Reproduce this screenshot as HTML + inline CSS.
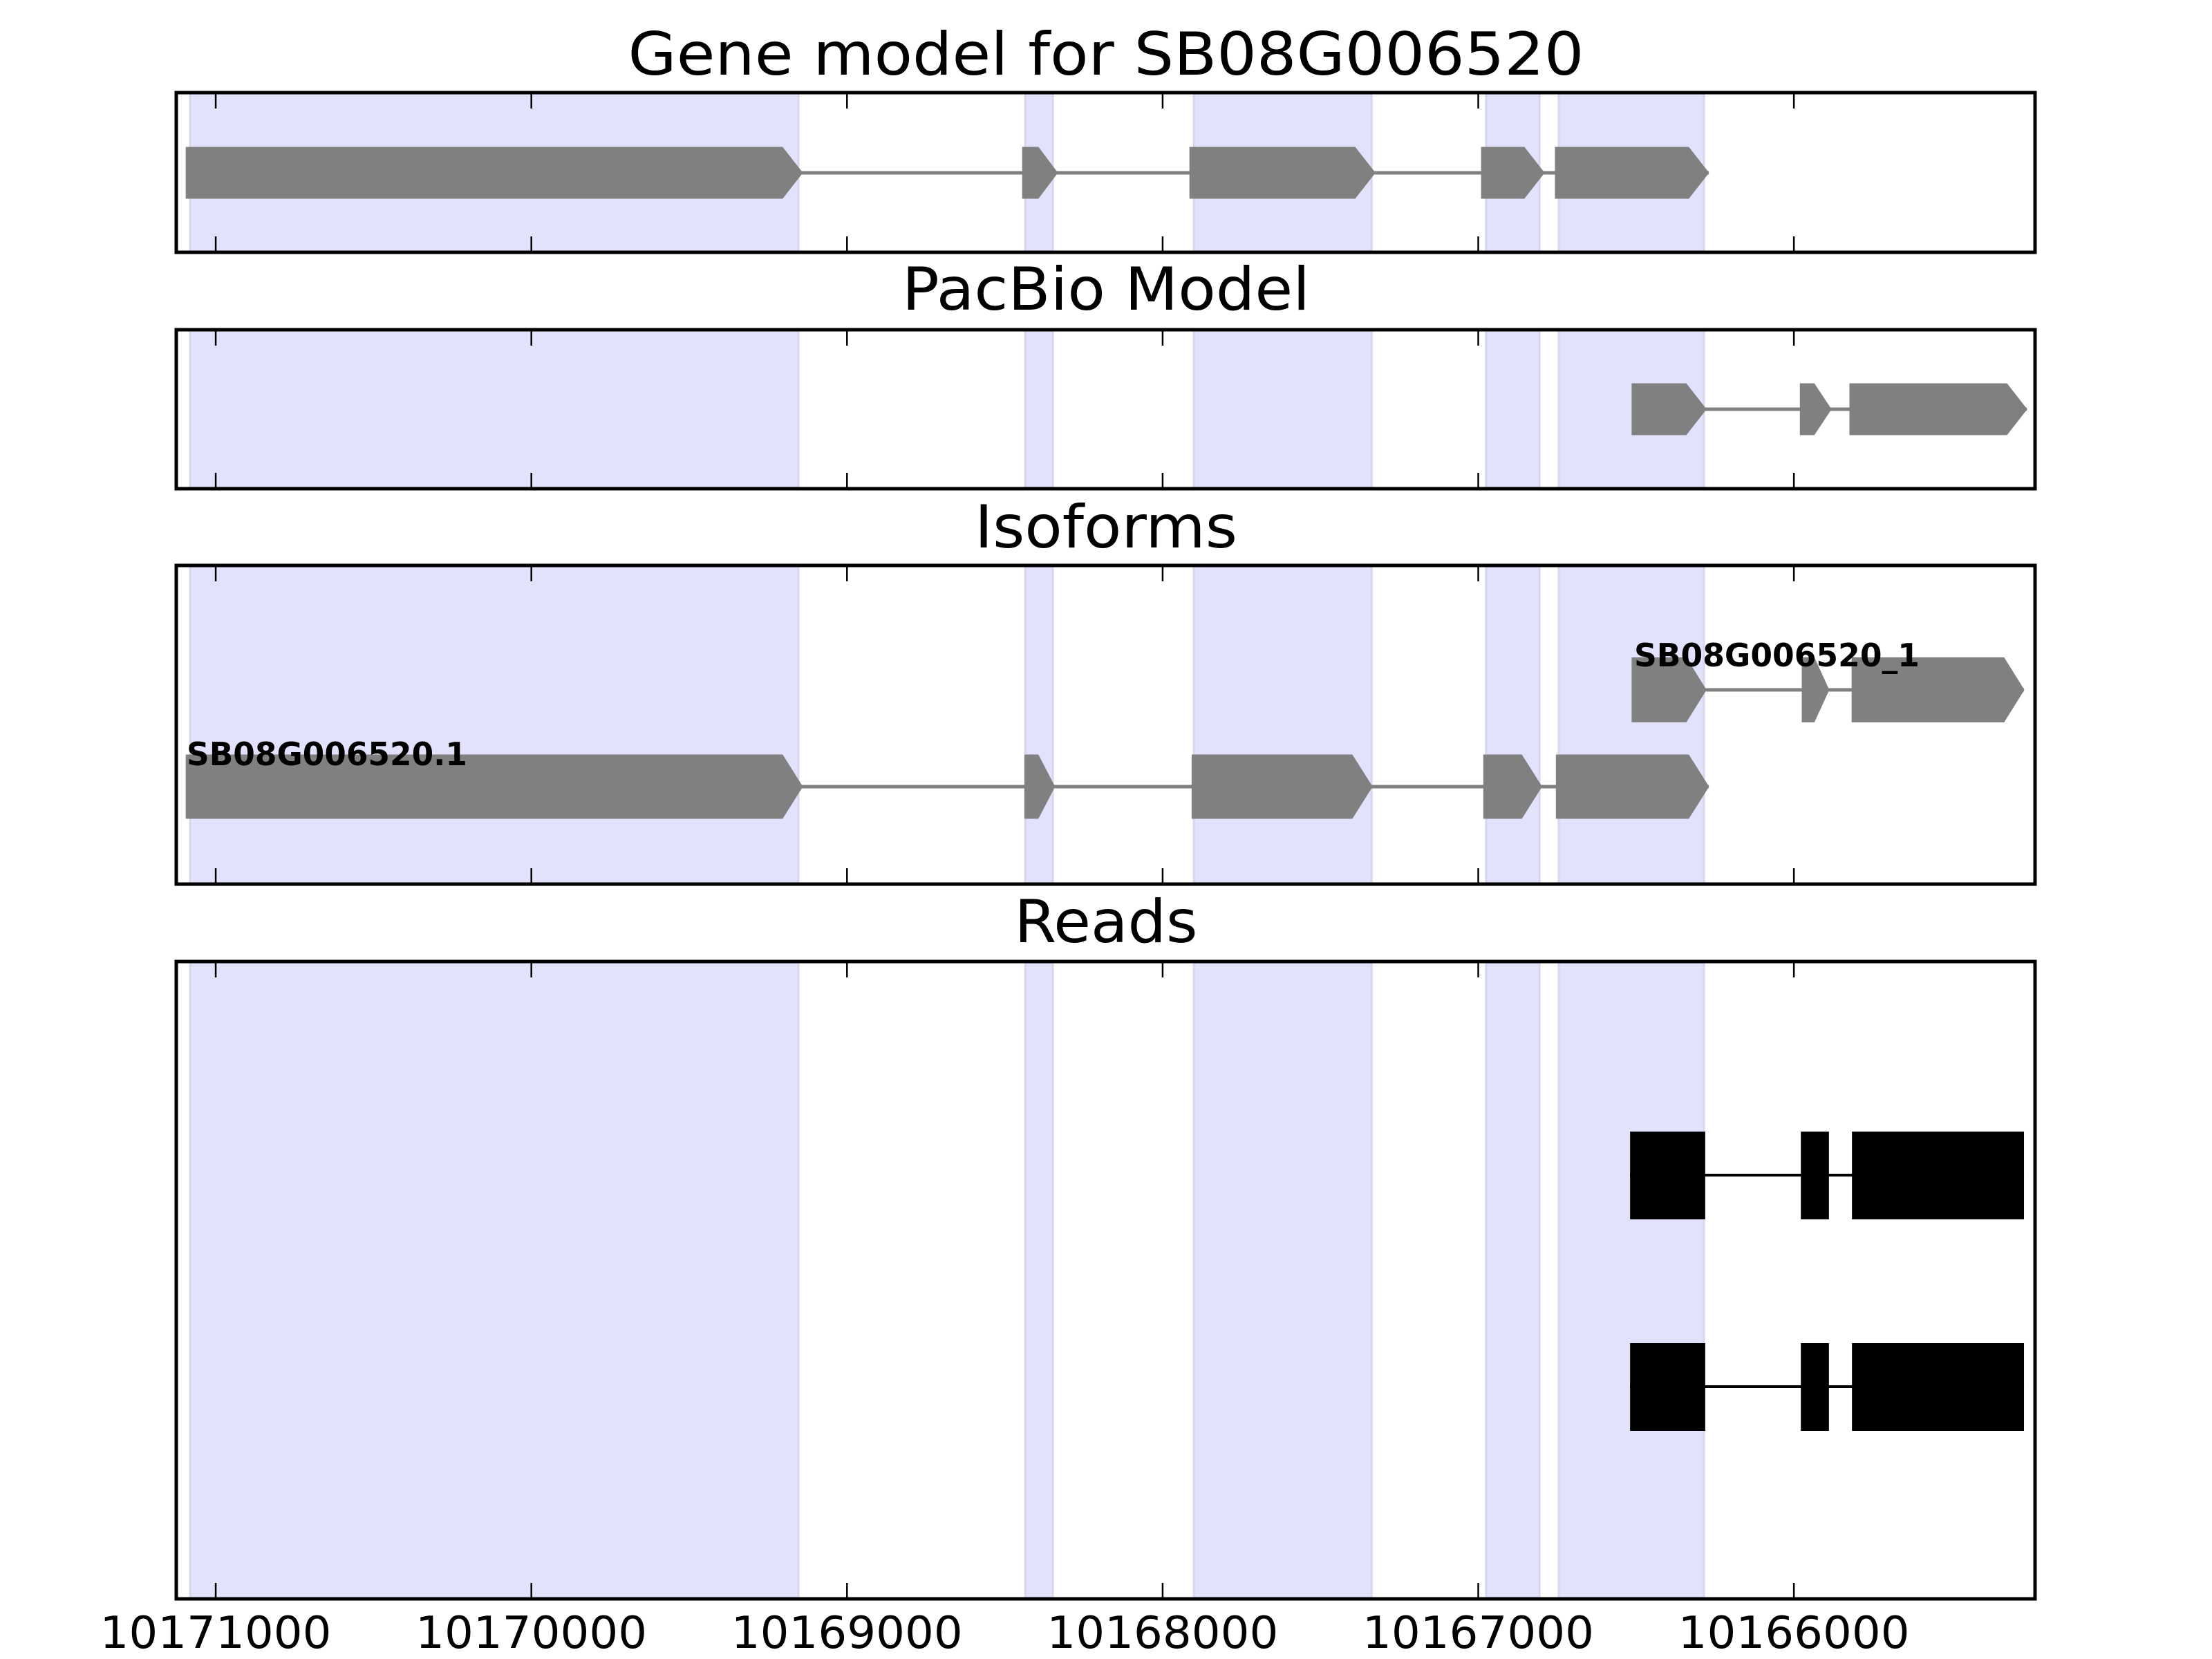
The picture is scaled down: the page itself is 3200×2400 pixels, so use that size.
<!DOCTYPE html>
<html><head><meta charset="utf-8"><style>
html,body{margin:0;padding:0;background:#fff}
svg{display:block}
text{font-family:"DejaVu Sans","Liberation Sans",sans-serif}
</style></head><body>
<svg id="chart" width="3200" height="2400" viewBox="0 0 3200 2400" xmlns="http://www.w3.org/2000/svg"></svg>
<script>
// ---- data (genomic coordinates) ----
const tickValues = [10171000, 10170000, 10169000, 10168000, 10167000, 10166000];
const tickLabels = ["10171000", "10170000", "10169000", "10168000", "10167000", "10166000"];
const shadedStarts = [10171081, 10168435, 10167901, 10166975, 10166745];
const shadedEnds   = [10169154, 10168348, 10167338, 10166806, 10166285];
const geneStarts = [10171094, 10168444, 10167914, 10166990, 10166756];
const geneEnds   = [10169141, 10168333, 10167327, 10166791, 10166270];
const pacbioStarts = [10166513, 10165980, 10165823];
const pacbioEnds   = [10166278, 10165882, 10165262];
const iso1Starts = [10171094, 10168437, 10167907, 10166983, 10166753];
const iso1Ends   = [10169141, 10168342, 10167336, 10166799, 10166270];
const iso2Starts = [10166513, 10165974, 10165816];
const iso2Ends   = [10166278, 10165889, 10165271];
const readStarts = [10166519, 10165978, 10165816];
const readEnds   = [10166281, 10165889, 10165271];
const readRows = [1, 2];
const titles = ["Gene model for SB08G006520", "PacBio Model", "Isoforms", "Reads"];

const NS = "http://www.w3.org/2000/svg";
const svg = document.getElementById("chart");
const X0 = 255, X1 = 2944;
const xMin = 10171125, xMax = 10165236; // inverted axis
function xs(g){ return X0 + (xMin - g) / (xMin - xMax) * (X1 - X0); }
function mk(tag, attrs, parent){
  const e = document.createElementNS(NS, tag);
  for (const k in attrs) e.setAttribute(k, attrs[k]);
  (parent || svg).appendChild(e);
  return e;
}
const panels = [
  {top:134, bottom:365, tb:108, tw:1383},
  {top:477, bottom:707, tb:448, tw:590},
  {top:818, bottom:1279, tb:792, tw:380},
  {top:1391, bottom:2313, tb:1363, tw:265}
];
const panelNames = ["gene-model-panel","pacbio-panel","isoforms-panel","reads-panel"];

panels.forEach((p, i) => {
  const g = mk("g", {});
  
  
  shadedStarts.forEach((s, j) => {
    const a = xs(s), b = xs(shadedEnds[j]);
    const r = mk("rect", {x:a, y:p.top, width:b-a, height:p.bottom-p.top, fill:"#e2e2fc", stroke:"#d6d6ee", "stroke-width":3}, g);
    
    
  });
  const t = mk("text", {x:1600, y:p.tb, "font-size":86, "text-anchor":"middle", textLength:p.tw, lengthAdjust:"spacingAndGlyphs", fill:"#000"}, g);
  t.textContent = titles[i];
  
  
});

function drawArrowTrack(starts, ends, cy, h, name){
  const g = mk("g", {});
  
  
  const l = mk("line", {x1:xs(starts[0]), x2:xs(ends[ends.length-1]), y1:cy, y2:cy, stroke:"#808080", "stroke-width":5}, g);
  
  
  starts.forEach((s, j) => {
    const a = xs(s), b = xs(ends[j]);
    const head = Math.min(29, (b - a) * 0.55);
    const pts = [[a,cy-h/2],[b-head,cy-h/2],[b,cy],[b-head,cy+h/2],[a,cy+h/2]].map(q=>q.join(",")).join(" ");
    const poly = mk("polygon", {points:pts, fill:"#808080", stroke:"#808080", "stroke-width":1}, g);
    
    
  });
}
drawArrowTrack(geneStarts, geneEnds, 250, 74, "gene-model-track");
drawArrowTrack(pacbioStarts, pacbioEnds, 592, 74, "pacbio-track");
drawArrowTrack(iso2Starts, iso2Ends, 998, 93, "isoform-2-track");
drawArrowTrack(iso1Starts, iso1Ends, 1138, 92, "isoform-1-track");

const lab1 = mk("text", {x:270, y:1107, "font-size":46, "font-weight":"bold", textLength:406, lengthAdjust:"spacingAndGlyphs"});
lab1.textContent = "SB08G006520.1";


const lab2 = mk("text", {x:2364, y:964, "font-size":46, "font-weight":"bold", textLength:413, lengthAdjust:"spacingAndGlyphs"});
lab2.textContent = "SB08G006520_1";



// reads
const rowY = [0, 1700, 2006];
readRows.forEach(r => {
  const g = mk("g", {});
  
  
  const cy = rowY[r];
  const l = mk("line", {x1:xs(readStarts[0]), x2:xs(readEnds[readEnds.length-1]), y1:cy, y2:cy, stroke:"#000", "stroke-width":4}, g);
  
  
  readStarts.forEach((s, j) => {
    const a = xs(s), b = xs(readEnds[j]);
    const rc = mk("rect", {x:a, y:cy-63, width:b-a, height:127, fill:"#000"}, g);
    
    
  });
});

// frames and ticks
panels.forEach((p, i) => {
  tickValues.forEach(v => {
    const x = xs(v);
    const t1 = mk("line", {x1:x, x2:x, y1:p.top, y2:p.top+23, stroke:"#000", "stroke-width":2.5});
    
    
    const t2 = mk("line", {x1:x, x2:x, y1:p.bottom, y2:p.bottom-23, stroke:"#000", "stroke-width":2.5});
    
    
  });
  const f = mk("rect", {x:X0, y:p.top, width:X1-X0, height:p.bottom-p.top, fill:"none", stroke:"#000", "stroke-width":5});
  
  
});
tickValues.forEach((v, i) => {
  const t = mk("text", {x:xs(v), y:2384, "font-size":64, "text-anchor":"middle", textLength:335, lengthAdjust:"spacingAndGlyphs"});
  t.textContent = tickLabels[i];
  
  
});
</script>
</body></html>
